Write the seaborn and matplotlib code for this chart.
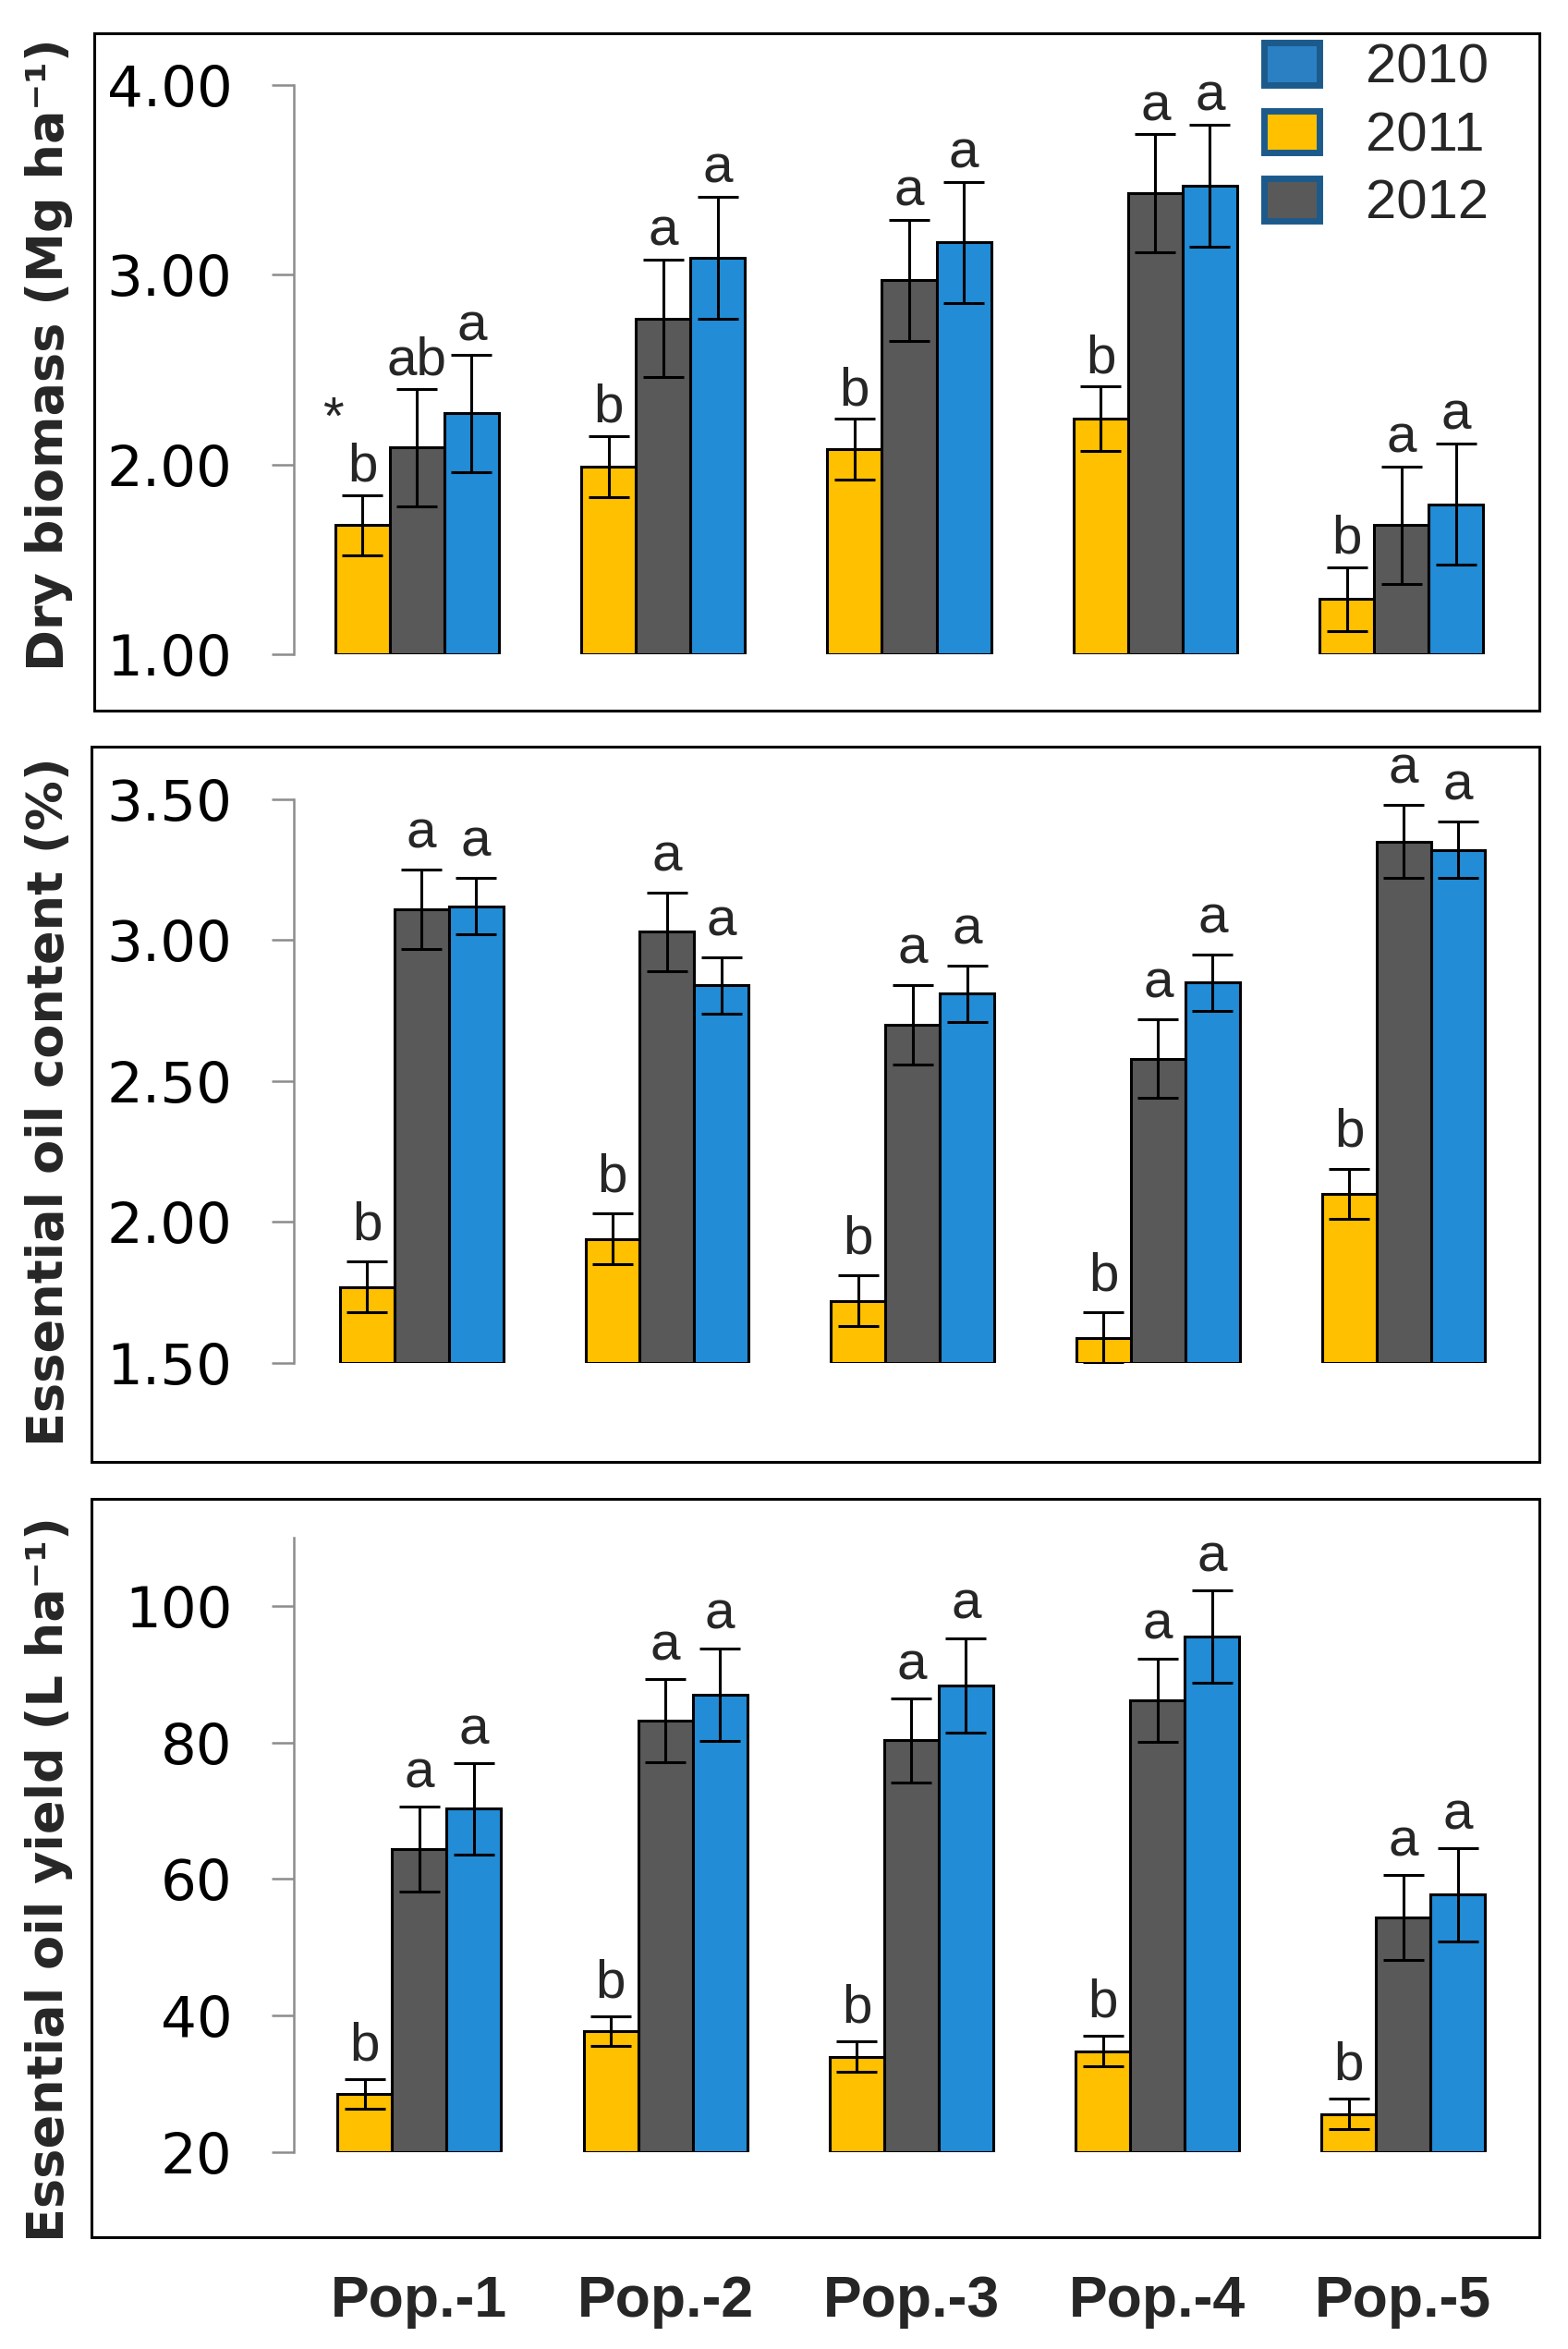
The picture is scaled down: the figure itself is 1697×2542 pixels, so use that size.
import pandas as pd
import matplotlib
matplotlib.use("Agg")
import matplotlib.pyplot as plt
from matplotlib.patches import Rectangle, Patch
import seaborn as sns

# ---- data ----
pops = ["Pop.-1", "Pop.-2", "Pop.-3", "Pop.-4", "Pop.-5"]
years = ["2011", "2012", "2010"]          # order of the bars inside a group

biomass_2011 = [1.68, 1.99, 2.08, 2.24, 1.29]
biomass_2012 = [2.09, 2.77, 2.97, 3.43, 1.68]
biomass_2010 = [2.27, 3.09, 3.17, 3.47, 1.79]
biomass_err_2011 = [0.16, 0.16, 0.16, 0.17, 0.17]
biomass_err_2012 = [0.31, 0.31, 0.32, 0.31, 0.31]
biomass_err_2010 = [0.31, 0.32, 0.32, 0.32, 0.32]
biomass_let_2011 = ["b", "b", "b", "b", "b"]
biomass_let_2012 = ["ab", "a", "a", "a", "a"]
biomass_let_2010 = ["a", "a", "a", "a", "a"]

oil_2011 = [1.77, 1.94, 1.72, 1.59, 2.10]
oil_2012 = [3.11, 3.03, 2.70, 2.58, 3.35]
oil_2010 = [3.12, 2.84, 2.81, 2.85, 3.32]
oil_err_2011 = [0.09, 0.09, 0.09, 0.09, 0.09]
oil_err_2012 = [0.14, 0.14, 0.14, 0.14, 0.13]
oil_err_2010 = [0.10, 0.10, 0.10, 0.10, 0.10]
oil_let_2011 = ["b", "b", "b", "b", "b"]
oil_let_2012 = ["a", "a", "a", "a", "a"]
oil_let_2010 = ["a", "a", "a", "a", "a"]

yield_2011 = [28.5, 37.7, 34.0, 34.8, 25.6]
yield_2012 = [64.4, 83.2, 80.3, 86.2, 54.4]
yield_2010 = [70.3, 87.0, 88.4, 95.5, 57.7]
yield_err_2011 = [2.2, 2.2, 2.2, 2.2, 2.2]
yield_err_2012 = [6.2, 6.1, 6.1, 6.1, 6.2]
yield_err_2010 = [6.7, 6.8, 6.9, 6.8, 6.8]
yield_let_2011 = ["b", "b", "b", "b", "b"]
yield_let_2012 = ["a", "a", "a", "a", "a"]
yield_let_2010 = ["a", "a", "a", "a", "a"]

bar_colors = {"2011": "#FFC000", "2012": "#595959", "2010": "#228CD6"}
legend_colors = {"2010": "#2A80C2", "2011": "#FFC000", "2012": "#595959"}

sns.set_theme(style="white")
plt.rcParams["font.family"] = ["DejaVu Sans"]

W, H = 1697, 2542
fig = plt.figure(figsize=(W / 100, H / 100), dpi=100)


def px_axes(l, t, r, b):
    return fig.add_axes([l / W, 1 - b / H, (r - l) / W, (b - t) / H])


def frame(l, t, r, b):
    fig.patches.append(Rectangle((l / W, 1 - b / H), (r - l) / W, (b - t) / H,
                                 transform=fig.transFigure, fill=False,
                                 edgecolor="black", linewidth=2.2))


def panel(ax, vals, errs, lets, ylim, yticks, fmt, ylabel, label_y, let_off, xlim0):
    df = pd.DataFrame({
        "pop": pops * 3,
        "year": [y for y in years for _ in pops],
        "value": vals["2011"] + vals["2012"] + vals["2010"],
    })
    sns.barplot(data=df, x="pop", y="value", hue="year", hue_order=years,
                palette=bar_colors, saturation=1, errorbar=None, width=0.665,
                gap=0, edgecolor="black", linewidth=2.2, legend=False, ax=ax)
    ymin = ylim[0]
    for cont, yr in zip(ax.containers, years):
        for bar, e, lab in zip(cont, errs[yr], lets[yr]):
            cx = bar.get_x() + bar.get_width() / 2
            h = bar.get_height()
            ax.errorbar(cx, h, yerr=e, fmt="none", ecolor="black",
                        elinewidth=2.2, capsize=16, capthick=2.2, zorder=5)
            bar.set_y(ymin)
            bar.set_height(h - ymin)
            ax.annotate(lab, (cx, h + e), xytext=(0, let_off),
                        textcoords="offset points", ha="center", va="baseline",
                        fontsize=42, family="Liberation Sans")
    ax.set_ylim(*ylim)
    ax.set_xlim(xlim0, 4.5)
    ax.set_yticks(yticks)
    ax.set_yticklabels([fmt.format(t) for t in yticks], fontsize=44)
    for s in ["top", "right", "bottom"]:
        ax.spines[s].set_visible(False)
    ax.spines["left"].set_color("#8C8C8C")
    ax.spines["left"].set_linewidth(1.8)
    ax.tick_params(axis="y", left=True, length=17, width=1.8, color="#8C8C8C",
                   pad=31, labelcolor="black")
    ax.tick_params(axis="x", length=0)
    ax.set_xlabel("")
    ax.set_ylabel(ylabel, fontsize=39, fontweight="bold", va="center")
    ax.yaxis.set_label_coords(-0.199, label_y)
    ax.patch.set_alpha(0)


# panel 1: dry biomass
ax1 = px_axes(318, 92, 1650, 708)
panel(ax1,
      {"2011": biomass_2011, "2012": biomass_2012, "2010": biomass_2010},
      {"2011": biomass_err_2011, "2012": biomass_err_2012, "2010": biomass_err_2010},
      {"2011": biomass_let_2011, "2012": biomass_let_2012, "2010": biomass_let_2010},
      (1.0, 4.0), [1.0, 2.0, 3.0, 4.0], "{:.2f}",
      "Dry biomass (Mg ha\u207b\u00b9)", 0.526, 11, -0.5)
ax1.set_xticklabels([])
first = ax1.containers[0][0]
ax1.annotate("*", (first.get_x() + first.get_width() / 2,
                   biomass_2011[0] + biomass_err_2011[0]),
             xytext=(-23, 58), textcoords="offset points", ha="center",
             va="center", fontsize=42, family="Liberation Sans")

# panel 2: essential oil content
ax2 = px_axes(318, 865, 1652, 1475)
panel(ax2,
      {"2011": oil_2011, "2012": oil_2012, "2010": oil_2010},
      {"2011": oil_err_2011, "2012": oil_err_2012, "2010": oil_err_2010},
      {"2011": oil_let_2011, "2012": oil_let_2012, "2010": oil_let_2010},
      (1.5, 3.5), [1.5, 2.0, 2.5, 3.0, 3.5], "{:.2f}",
      "Essential oil content (%)", 0.464, 17, -0.52)
ax2.set_xticklabels([])

# panel 3: essential oil yield
ax3 = px_axes(318, 1664, 1652, 2329)
panel(ax3,
      {"2011": yield_2011, "2012": yield_2012, "2010": yield_2010},
      {"2011": yield_err_2011, "2012": yield_err_2012, "2010": yield_err_2010},
      {"2011": yield_let_2011, "2012": yield_let_2012, "2010": yield_let_2010},
      (20, 110), [20, 40, 60, 80, 100], "{:.0f}",
      "Essential oil yield (L ha\u207b\u00b9)", 0.444, 15, -0.51)
ax3.tick_params(axis="x", pad=95)
for t in ax3.get_xticklabels():
    t.set_fontsize(45)
    t.set_fontweight("bold")
    t.set_family("Liberation Sans")

frame(102, 36, 1666, 769)
frame(99, 808, 1666, 1582)
frame(99, 1622, 1666, 2421)

handles = [Patch(facecolor=legend_colors[y], edgecolor="#1C5A8C", linewidth=5, label=y)
           for y in ["2010", "2011", "2012"]]
fig.legend(handles=handles, loc="upper left", bbox_to_anchor=(1368 / W, 1 - 46 / H),
           bbox_transform=fig.transFigure, frameon=False, borderpad=0,
           borderaxespad=0, handlelength=1.0, handleheight=0.8,
           handletextpad=0.85, labelspacing=0.3,
           prop={"family": "Liberation Sans", "size": 43})

fig.savefig("out.png", dpi=100)
